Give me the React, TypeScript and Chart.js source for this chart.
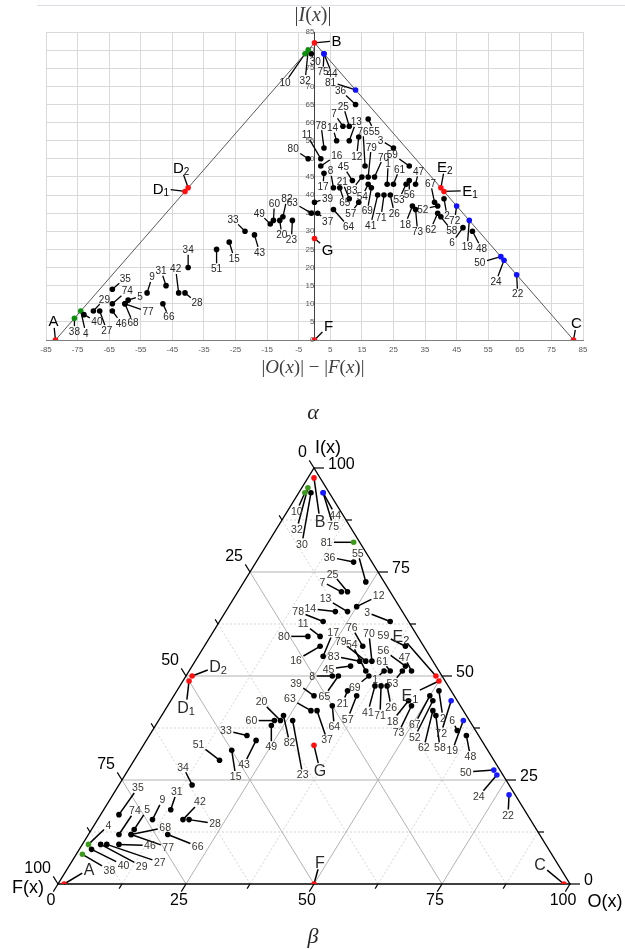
import React, { useEffect, useRef } from "react";
import { Chart, registerables } from "chart.js";

Chart.register(...registerables);
Chart.defaults.font.family = '"Liberation Sans", Arial, sans-serif';

// ---------------- data ----------------
const pointNames: string[] = [
  "A", "B", "C", "D1", "D2", "E1", "E2", "F", "G",
  ...Array.from({ length: 83 }, (_, i) => String(i + 1)),
];

// |O(x)| - |F(x)|
const oMinusF: number[] = [
  -82, 0, 82, -41, -40, 41, 40, 0, 0,
  23, 41, 25, -74, -59, 47, 9, 6, -53, -3,
  2, 14, 11, 7, -27, 2, 3, 31, 49, -11,
  11, 64, -7, 60, 11, 24, -68, -41, -70, -1,
  -47, -2, -22, -40, -64, 13, 1, -76, 0, -73,
  20, -43, -19, 3, 12, -64, 32, 50, -14, 59,
  -31, 39, 29, 17, 17, 30, 14, 40, 30, -13,
  25, 39, -1, 6, 8, -48, 38, -60, 18, 19,
  22, 45, 32, -64, 3, 16, -60, 3, 17, -2,
  13, -10, 15,
];

// |I(x)|
const absI: number[] = [
  0, 82, 0, 41, 42, 41, 42, 0, 28,
  43, 39, 53, 8, 11, 31, 59, 42, 13, 79,
  50, 56, 55, 55, 27, 48, 46, 37, 33, 33,
  39, 18, 33, 22, 59, 40, 8, 13, 8, 79,
  15, 80, 30, 20, 14, 65, 35, 6, 38, 7,
  40, 13, 29, 79, 44, 8, 43, 30, 32, 23,
  25, 37, 43, 43, 61, 44, 38, 34, 48, 33,
  43, 35, 35, 36, 42, 10, 38, 10, 42, 45,
  40, 37, 36, 10, 79, 48, 10, 53, 45, 50,
  69, 34, 45,
];

// colour group of each marker (r = reference, g = green, b = blue, k = black)
const topGroups: string[] = (
  "rrrrrrrrr" +
  "kkkgkkkkkg" + "kkkkkkkkbk" + "kbkbkkkkkk" + "kgkkkkkgkk" + "kkkbkkkkkb" +
  "kkkkkkkkkk" + "kkkkkkkkkk" + "kbkkbkkkkk" + "bkk"
).split("");
const ternaryGroups: string[] = (
  "rrrrrrrrr" +
  "kkkgkkkkkg" + "kkkkkkkkbk" + "kbkbkkkkkk" + "kgkkkkkgkk" + "kkkbkkkkkb" +
  "kkkkkkkkkk" + "kkkkkkkkkk" + "kbkkbkkkkk" + "gkk"
).split("");

const TERNARY_TOTAL = 84; // total used for the percentages of the ternary view
const xTickValues = [-85, -75, -65, -55, -45, -35, -25, -15, -5, 5, 15, 25, 35, 45, 55, 65, 75, 85];
const yTickValues = [0, 5, 10, 15, 20, 25, 30, 35, 40, 45, 50, 55, 60, 65, 70, 75, 80, 85];
const ternaryMajor = [0, 25, 50, 75, 100];
const ternaryMinor = [12.5, 37.5, 62.5, 87.5];

// ---------------- layout: label offsets (px) ----------------
const topLabelOffsets: [number, number][] = [
  [-2, -19], [22, -2], [3, -17], [-24, -3], [-7, -20], [26, -1], [4, -21], [14, -14], [13, 11],
  [1, -21], [3, 17], [-13, -8], [5, 22], [12, -4], [-11, 15], [-9, -13], [-3, -17], [5, -16], [-20, 29],
  [-14, -24], [-2, 19], [7, -19], [-4, -13], [5, 16], [16, -11], [-1, 13], [-7, 18], [-2, 26], [2, 14],
  [-7, -17], [1, 19], [-1, 19], [-8, 21], [-6, -20], [4, 18], [7, 19], [12, 10], [11, -12], [4, 8],
  [-5, -15], [-3, 30], [-12, -12], [0, -18], [13, -11], [-15, -14], [10, 8], [0, 13], [13, -4], [13, 7],
  [-7, 30], [-3, -24], [5, 17], [8, 20], [-9, -14], [9, 12], [3, -13], [9, 17], [-11, -11], [-21, 6],
  [0, 19], [-15, 3], [-7, 15], [-6, 12], [6, 12], [0, 14], [-8, 11], [11, 14], [-17, -12], [1, -17],
  [6, -15], [-7, 16], [-19, -11], [15, 17], [5, 15], [6, 13], [-4, -19], [8, 19], [-4, 23], [9, -20],
  [-3, 22], [-2, 14], [2, 22], [15, -13], [-1, 18], [-2, -35], [23, 8], [-3, -23], [3, -30], [-15, -10],
  [-25, -8], [4, -18], [-10, 13],
];
const ternaryLabelOffsets: [number, number][] = [
  [25, -15], [6, 43], [-24, -20], [-3, 26], [26, -10], [-29, 14], [-35, -40], [6, -22], [6, 25],
  [-9, 8], [4, 27], [-23, -9], [20, -19], [13, -20], [-5, -10], [-19, -10], [-20, 0], [10, -20], [-8, 18],
  [-17, -13], [22, -11], [-22, -13], [-25, -3], [4, 26], [-24, 14], [10, -24], [-16, 20], [-11, 30], [-19, -19],
  [-5, 12], [-1, 20], [10, 54], [-18, 21], [-15, -18], [4, 21], [53, 18], [26, 4], [41, 22], [-9, 51],
  [6, -18], [-11, 41], [-21, -5], [-9, -18], [19, -27], [-24, -5], [10, 29], [27, 16], [-18, -13], [32, 16],
  [-7, 26], [17, -18], [-12, 24], [12, 22], [-22, 3], [31, 1], [-7, -14], [4, 21], [0, 21], [-28, 2],
  [-21, -16], [-18, 36], [-10, 12], [-14, -27], [-8, -29], [-22, -16], [-9, 23], [4, 32], [-22, -11], [-23, 0],
  [-8, -10], [-9, 37], [-21, -12], [2, 21], [-14, 20], [30, 12], [-15, 28], [34, -7], [-14, 11], [-3, -28],
  [-1, 29], [-10, 32], [-13, 27], [16, -24], [10, 33], [-11, -19], [37, 13], [-25, -10], [-25, -20], [-24, 0],
  [-27, 0], [6, 27], [-26, -5],
];

const topColors: Record<string, string> = { r: "#ff1010", g: "#0b8f0b", b: "#1010ff", k: "#000000" };
const ternaryColors: Record<string, string> = { r: "#ff1010", g: "#3d9a1c", b: "#1a1aff", k: "#000000" };

// ---------------- helpers ----------------
const SANS = '"Liberation Sans", Arial, sans-serif';
const SERIF = '"Liberation Serif", "DejaVu Serif", serif';

function splitName(name: string) {
  const m = /^([A-Z])(\d?)$/.exec(name);
  return m ? { main: m[1], sub: m[2] } : null;
}

function measureLabel(ctx: CanvasRenderingContext2D, name: string, o: any) {
  const s = splitName(name);
  if (s) {
    ctx.font = `${o.letterSize}px ${SANS}`;
    let w = ctx.measureText(s.main).width;
    if (s.sub) {
      ctx.font = `${o.subSize}px ${SANS}`;
      w += ctx.measureText(s.sub).width;
    }
    return { w, h: o.letterSize * 0.72 };
  }
  ctx.font = `${o.numberSize}px ${SANS}`;
  return { w: ctx.measureText(name).width, h: o.numberSize * 0.72 };
}

const leaderLabels = {
  id: "leaderLabels",
  beforeDatasetsDraw(chart: any, _a: any, o: any) {
    const ctx: CanvasRenderingContext2D = chart.ctx;
    const meta = chart.getDatasetMeta(0);
    ctx.save();
    ctx.strokeStyle = o.lineColor;
    ctx.lineWidth = o.lineWidth;
    o.names.forEach((name: string, i: number) => {
      const el = meta.data[i];
      if (!el) return;
      const [dx, dy] = o.offsets[i];
      const cx = el.x + dx;
      const cy = el.y + dy;
      const { w, h } = measureLabel(ctx, name, o);
      const hw = w / 2 + o.gap;
      const hh = h / 2 + o.gap;
      const vx = el.x - cx;
      const vy = el.y - cy;
      if (Math.abs(vx) <= hw && Math.abs(vy) <= hh) return;
      const t = Math.min(
        vx !== 0 ? hw / Math.abs(vx) : Infinity,
        vy !== 0 ? hh / Math.abs(vy) : Infinity
      );
      ctx.beginPath();
      ctx.moveTo(el.x, el.y);
      ctx.lineTo(cx + vx * t, cy + vy * t);
      ctx.stroke();
    });
    ctx.restore();
  },
  afterDatasetsDraw(chart: any, _a: any, o: any) {
    const ctx: CanvasRenderingContext2D = chart.ctx;
    const meta = chart.getDatasetMeta(0);
    ctx.save();
    ctx.textAlign = "left";
    ctx.textBaseline = "alphabetic";
    o.names.forEach((name: string, i: number) => {
      const el = meta.data[i];
      if (!el) return;
      const [dx, dy] = o.offsets[i];
      const cx = el.x + dx;
      const cy = el.y + dy;
      const { w, h } = measureLabel(ctx, name, o);
      const x0 = cx - w / 2;
      const base = cy + h / 2;
      const s = splitName(name);
      if (s) {
        ctx.fillStyle = o.letterColor;
        ctx.font = `${o.letterSize}px ${SANS}`;
        ctx.fillText(s.main, x0, base);
        if (s.sub) {
          const w1 = ctx.measureText(s.main).width;
          ctx.font = `${o.subSize}px ${SANS}`;
          ctx.fillText(s.sub, x0 + w1, base + 2);
        }
      } else {
        ctx.fillStyle = o.numberColor;
        ctx.font = `${o.numberSize}px ${SANS}`;
        ctx.fillText(name, x0, base);
      }
    });
    ctx.restore();
  },
};

function drawMath(ctx: CanvasRenderingContext2D, parts: [string, boolean][], cx: number, cy: number, size: number, color: string) {
  const f = (it: boolean) => `${it ? "italic " : ""}${size}px ${SERIF}`;
  let total = 0;
  for (const [t, it] of parts) {
    ctx.font = f(it);
    total += ctx.measureText(t).width;
  }
  let x = cx - total / 2;
  ctx.fillStyle = color;
  ctx.textAlign = "left";
  ctx.textBaseline = "middle";
  for (const [t, it] of parts) {
    ctx.font = f(it);
    ctx.fillText(t, x, cy);
    x += ctx.measureText(t).width;
  }
}

const topDecor = {
  id: "topDecor",
  beforeDraw(chart: any) {
    const ctx: CanvasRenderingContext2D = chart.ctx;
    ctx.save();
    ctx.strokeStyle = "#dcdce4";
    ctx.lineWidth = 1;
    ctx.beginPath();
    ctx.moveTo(37, 5.5);
    ctx.lineTo(625, 5.5);
    ctx.stroke();
    ctx.restore();
  },
  afterDraw(chart: any) {
    const ctx: CanvasRenderingContext2D = chart.ctx;
    ctx.save();
    drawMath(ctx, [["|", false], ["I", true], ["(", false], ["x", true], [")", false], ["|", false]], 313, 16, 20, "#404040");
    drawMath(
      ctx,
      [["|", false], ["O", true], ["(", false], ["x", true], [")", false], ["|", false], [" − ", false],
       ["|", false], ["F", true], ["(", false], ["x", true], [")", false], ["|", false]],
      313, 368, 19, "#404040"
    );
    drawMath(ctx, [["α", true]], 313, 413, 22, "#262626");
    ctx.restore();
  },
};

const ternaryFrame = {
  id: "ternaryFrame",
  beforeDatasetsDraw(chart: any) {
    const ctx: CanvasRenderingContext2D = chart.ctx;
    const xs = chart.scales.x;
    const ys = chart.scales.y;
    const P = (I: number, O: number): [number, number] => [xs.getPixelForValue(O + I / 2), ys.getPixelForValue(I)];
    const seg = (a: [number, number], b: [number, number]) => {
      ctx.beginPath();
      ctx.moveTo(a[0], a[1]);
      ctx.lineTo(b[0], b[1]);
      ctx.stroke();
    };
    const unit = (a: [number, number], b: [number, number]): [number, number] => {
      const dx = a[0] - b[0];
      const dy = a[1] - b[1];
      const l = Math.hypot(dx, dy);
      return [dx / l, dy / l];
    };
    ctx.save();
    // minor grid
    ctx.strokeStyle = "#d4d4d4";
    ctx.lineWidth = 1;
    ctx.setLineDash([2, 2]);
    for (const c of ternaryMinor) {
      seg(P(c, 0), P(c, 100 - c));
      seg(P(0, c), P(100 - c, c));
      seg(P(0, 100 - c), P(100 - c, 0));
    }
    ctx.setLineDash([]);
    ctx.strokeStyle = "#b2b2b2";
    for (const c of ternaryMajor) {
      if (c === 0 || c === 100) continue;
      seg(P(c, 0), P(c, 100 - c));
      seg(P(0, c), P(100 - c, c));
      seg(P(0, 100 - c), P(100 - c, 0));
    }
    // outline
    ctx.strokeStyle = "#000";
    ctx.lineWidth = 1.4;
    ctx.beginPath();
    const a = P(0, 0), b = P(0, 100), c = P(100, 0);
    ctx.moveTo(a[0], a[1]);
    ctx.lineTo(b[0], b[1]);
    ctx.lineTo(c[0], c[1]);
    ctx.closePath();
    ctx.stroke();
    // ticks
    ctx.lineWidth = 1.2;
    const all = [...ternaryMajor, ...ternaryMinor];
    for (const v of all) {
      const len = ternaryMajor.includes(v) ? 10 : 6;
      const pi = P(v, 100 - v);
      seg(pi, [pi[0] + len, pi[1]]);
      const po = P(0, v);
      const uo = unit(P(0, v), P(10, v));
      seg(po, [po[0] + uo[0] * len * 0.9, po[1] + uo[1] * len * 0.9]);
      const pf = P(100 - v, 0);
      const uf = unit(P(100 - v, 0), P(90 - v, 10));
      seg(pf, [pf[0] + uf[0] * len * 0.9, pf[1] + uf[1] * len * 0.9]);
    }
    // tick labels
    ctx.fillStyle = "#000";
    ctx.font = `16px ${SANS}`;
    ctx.textBaseline = "middle";
    for (const v of ternaryMajor) {
      const pi = P(v, 100 - v);
      ctx.textAlign = "left";
      ctx.fillText(String(v), pi[0] + 14, pi[1] - 3);
      const po = P(0, v);
      ctx.textAlign = "center";
      ctx.fillText(String(v), po[0] - 7, po[1] + 17);
      const pf = P(100 - v, 0);
      ctx.textAlign = "right";
      ctx.fillText(String(v), pf[0] - 7, pf[1] - 15);
    }
    // axis names
    ctx.font = `18px ${SANS}`;
    ctx.textAlign = "center";
    const apex = P(100, 0);
    ctx.fillText("I(x)", apex[0] + 14, apex[1] - 20);
    ctx.fillText("F(x)", a[0] - 30, a[1] + 4);
    ctx.fillText("O(x)", b[0] + 35, b[1] + 18);
    ctx.restore();
  },
  afterDraw(chart: any) {
    const ctx: CanvasRenderingContext2D = chart.ctx;
    ctx.save();
    drawMath(ctx, [["β", true]], 313, 507, 22, "#262626");
    ctx.restore();
  },
};

export default function App() {
  const topRef = useRef<HTMLCanvasElement>(null);
  const botRef = useRef<HTMLCanvasElement>(null);

  useEffect(() => {
    const topPoints = pointNames.map((_, i) => ({ x: oMinusF[i], y: absI[i] }));
    const corner = ["A", "B", "C"].map((n) => pointNames.indexOf(n));
    const triangle = corner.map((i) => ({ x: oMinusF[i], y: absI[i] }));

    const top = new Chart(topRef.current as HTMLCanvasElement, {
      type: "scatter",
      data: {
        datasets: [
          {
            data: topPoints,
            pointRadius: 2.8,
            pointBorderWidth: 0,
            pointBackgroundColor: topGroups.map((g) => topColors[g]),
            pointBorderColor: topGroups.map((g) => topColors[g]),
            showLine: false,
          },
          {
            data: triangle,
            showLine: true,
            pointRadius: 0,
            borderColor: "#595959",
            borderWidth: 1,
            fill: false,
          },
        ],
      },
      options: {
        responsive: false,
        animation: false,
        layout: { padding: { left: 46, right: 42, top: 32, bottom: 90 } },
        plugins: {
          legend: { display: false },
          tooltip: { enabled: false },
          leaderLabels: {
            names: pointNames,
            offsets: topLabelOffsets,
            numberSize: 10,
            letterSize: 15,
            subSize: 10,
            numberColor: "#262626",
            letterColor: "#000",
            lineColor: "#000",
            lineWidth: 1.3,
            gap: 1.5,
          },
        } as any,
        scales: {
          x: {
            type: "linear",
            min: -85,
            max: 85,
            position: { y: 0 } as any,
            afterBuildTicks: (axis: any) => {
              axis.ticks = xTickValues.map((v) => ({ value: v }));
            },
            grid: { color: "#d9d9d9", drawTicks: false },
            border: { color: "#7f7f7f", width: 1 },
            ticks: { color: "#595959", font: { size: 8 }, padding: 5, autoSkip: false, maxRotation: 0 },
          },
          y: {
            type: "linear",
            min: 0,
            max: 85,
            position: { x: 0 } as any,
            afterBuildTicks: (axis: any) => {
              axis.ticks = yTickValues.map((v) => ({ value: v }));
            },
            grid: { color: "#d9d9d9", drawTicks: false },
            border: { color: "#404040", width: 1 },
            ticks: { color: "#595959", font: { size: 8 }, padding: 5, autoSkip: false },
          },
        },
      },
      plugins: [topDecor, leaderLabels],
    } as any);

    // ternary composition (percent): I, O and F share the total, with the difference O-F
    const ternI = absI.map((v) => (100 * v) / TERNARY_TOTAL);
    const ternO = absI.map((v, i) => (100 * (TERNARY_TOTAL - v + oMinusF[i])) / (2 * TERNARY_TOTAL));
    const ternPoints = pointNames.map((_, i) => ({ x: ternO[i] + ternI[i] / 2, y: ternI[i] }));

    const bot = new Chart(botRef.current as HTMLCanvasElement, {
      type: "scatter",
      data: {
        datasets: [
          {
            data: ternPoints,
            pointRadius: 2.8,
            pointBorderWidth: 0,
            pointBackgroundColor: ternaryGroups.map((g) => ternaryColors[g]),
            pointBorderColor: ternaryGroups.map((g) => ternaryColors[g]),
            showLine: false,
          },
        ],
      },
      options: {
        responsive: false,
        animation: false,
        layout: { padding: { left: 58, right: 55, top: 38, bottom: 65 } },
        plugins: {
          legend: { display: false },
          tooltip: { enabled: false },
          leaderLabels: {
            names: pointNames,
            offsets: ternaryLabelOffsets,
            numberSize: 10.5,
            letterSize: 16,
            subSize: 11,
            numberColor: "#3a3632",
            letterColor: "#2a2a2a",
            lineColor: "#000",
            lineWidth: 1.5,
            gap: 1.5,
          },
        } as any,
        scales: {
          x: { type: "linear", min: 0, max: 100, display: false },
          y: { type: "linear", min: 0, max: 100, display: false },
        },
      },
      plugins: [ternaryFrame, leaderLabels],
    } as any);

    return () => {
      top.destroy();
      bot.destroy();
    };
  }, []);

  return (
    <div style={{ position: "absolute", left: 0, top: 0, width: 625, height: 949, background: "#fff" }}>
      <canvas ref={topRef} width={625} height={430} style={{ position: "absolute", left: 0, top: 0, width: 625, height: 430 }} />
      <canvas ref={botRef} width={625} height={519} style={{ position: "absolute", left: 0, top: 430, width: 625, height: 519 }} />
    </div>
  );
}
